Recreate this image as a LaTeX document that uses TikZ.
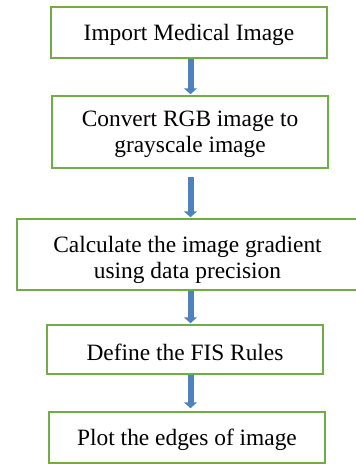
\documentclass[tikz,border=0pt]{standalone}
\usepackage{fontspec}
\setmainfont{Liberation Serif}
\usetikzlibrary{arrows.meta}
\definecolor{boxgreen}{HTML}{70AD47}
\definecolor{arrblue}{HTML}{4F81BD}
\begin{document}
\begin{tikzpicture}[x=1pt,y=-1pt,
  box/.style={draw=boxgreen, line width=1.5pt, fill=white,
    font=\fontsize{23.4}{26}\selectfont, align=center, inner sep=0pt,
    text depth=0pt},
  flow/.style={draw=arrblue, line width=6pt,
    -{Triangle[width=13pt,length=6pt]}}]
\useasboundingbox (0,0) rectangle (356,464);
\node[box, minimum width=276pt, minimum height=51pt, text depth=1pt] (b1) at (189,32.5) {Import Medical Image};
\node[box, minimum width=276pt, minimum height=72pt] (b2) at (190,132) {Convert RGB image to\\grayscale image};
\node[box, minimum width=341pt, minimum height=71pt, text height=47.6pt] (b3) at (187.5,254.5) {Calculate the image gradient\\using data precision};
\node[box, minimum width=276pt, minimum height=49pt, text height=22pt] (b4) at (185,349.5) {Define the FIS Rules};
\node[box, minimum width=276pt, minimum height=51pt, text depth=1pt] (b5) at (187,437.5) {Plot the edges of image};
\coordinate (ax) at (190.5,0);
\draw[flow] (b1.south -| ax) -- ([yshift=1pt]b2.north -| ax);
\draw[flow] ([yshift=-8pt]b2.south -| ax) -- ([yshift=1pt]b3.north -| ax);
\draw[flow] (b3.south -| ax) -- ([yshift=1pt]b4.north -| ax);
\draw[flow] (b4.south -| ax) -- ([yshift=3pt]b5.north -| ax);
\end{tikzpicture}
\end{document}
